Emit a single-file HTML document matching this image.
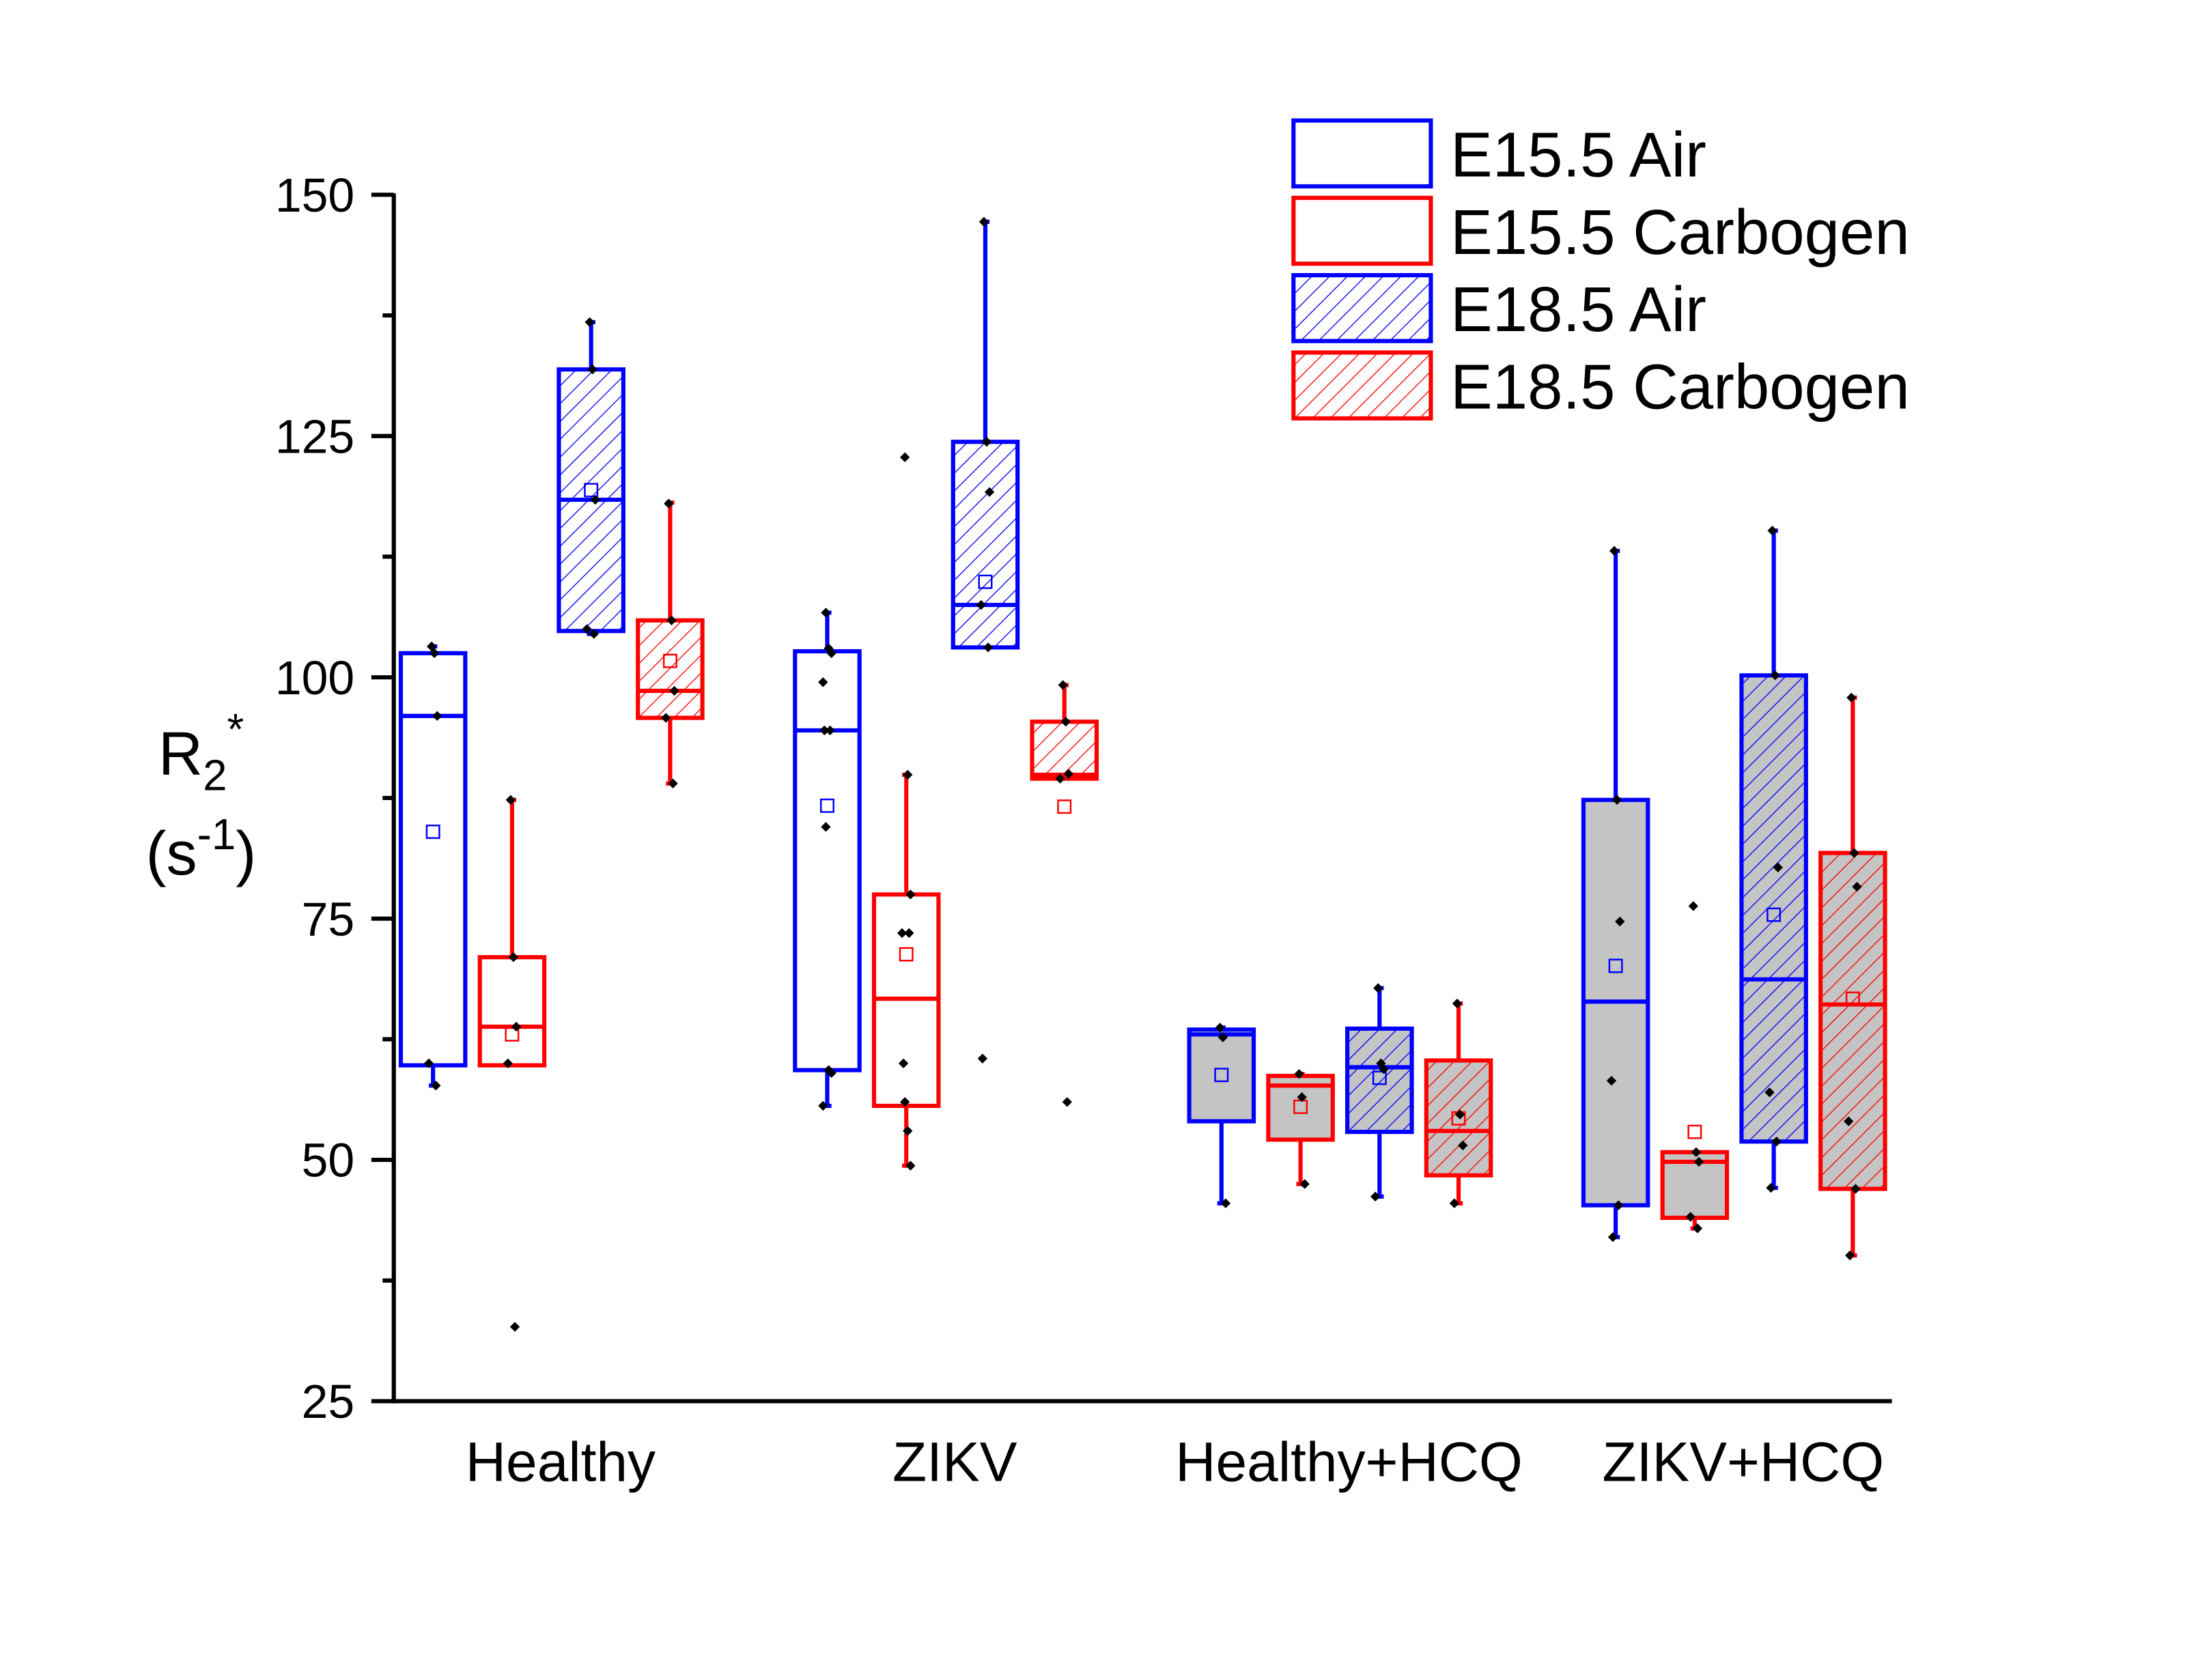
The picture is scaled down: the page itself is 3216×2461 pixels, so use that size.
<!DOCTYPE html>
<html><head><meta charset="utf-8">
<style>
html,body{margin:0;padding:0;background:#fff;}
svg{display:block;}
text{font-family:"Liberation Sans",Arial,sans-serif;}
</style></head>
<body>
<svg id="chart" width="3216" height="2461" viewBox="0 0 1567 1199" preserveAspectRatio="none" xmlns="http://www.w3.org/2000/svg">
<defs>
<pattern id="hb" patternUnits="userSpaceOnUse" width="9" height="9" patternTransform="rotate(45)"><line x1="0" y1="0" x2="0" y2="9" stroke="#0000ff" stroke-width="1.3"/></pattern>
<pattern id="hr" patternUnits="userSpaceOnUse" width="9" height="9" patternTransform="rotate(45)"><line x1="0" y1="0" x2="0" y2="9" stroke="#ff0000" stroke-width="1.3"/></pattern>
</defs>
<g id="plot"></g>
</svg>
<script>
const categories = ["Healthy","ZIKV","Healthy+HCQ","ZIKV+HCQ"];
const seriesNames = ["E15.5 Air","E15.5 Carbogen","E18.5 Air","E18.5 Carbogen"];
const yTicks = [25,50,75,100,125,150];
// [q1, median, q3, whiskerLow, whiskerHigh, mean] per category per series
const boxAir15 = [[59.8,96,102.5,57.7,103.2,84],[59.3,94.5,102.7,55.6,106.7,86.7],[54,63,63.5,45.5,63.7,58.8],[45.3,66.4,87.3,42,113.1,70.1]];
const boxCarb15 = [[59.8,63.8,71,59.8,87.3,63],[55.6,66.7,77.5,49.4,89.9,71.3],[52.1,57.7,58.7,47.5,58.9,55.5],[44,49.8,50.8,42.9,50.8,52.9]];
const boxAir18 = [[104.8,118.4,131.9,104.5,136.8,119.4],[103.1,107.5,124.4,103.1,147.2,109.9],[52.9,59.6,63.6,46.2,67.8,58.5],[51.9,68.7,100.2,47.1,115.2,75.4]];
const boxCarb18 = [[95.8,98.6,105.9,89,118.1,101.7],[89.5,89.9,95.4,89.5,99.2,86.6],[48.4,53,60.3,45.5,66.2,54.3],[47,66.1,81.8,40.1,97.9,66.7]];
const ptsAir15 = [[103.2,102.5,96,60,57.7],[106.7,103,102.5,99.5,94.5,94.5,84.5,59.3,59,55.6],[63.7,62.7,45.5],[113.1,87.3,74.7,58.2,45.3,42]];
const ptsCarb15 = [[87.3,71,63.8,60,32.7],[122.8,89.9,77.5,73.5,73.5,60,56,53,49.4],[58.9,56.5,47.5],[76.3,50.8,49.8,44.1,42.9]];
const ptsAir18 = [[136.8,131.9,118.4,105,104.5],[147.2,124.4,119.2,107.5,103.1,60.5],[67.8,60,59.4,46.2],[115.2,100.2,80.3,57,51.9,47.1]];
const ptsCarb18 = [[118,105.9,98.6,95.8,89],[99.2,95.4,90,89.5,56],[66.2,54.7,51.5,45.5],[97.9,81.8,78.3,54,47,40.1]];

const boxes=[boxAir15,boxCarb15,boxAir18,boxCarb18];
const pts=[ptsAir15,ptsCarb15,ptsAir18,ptsCarb18];
const colors=["#0000ff","#ff0000","#0000ff","#ff0000"];
const NS="http://www.w3.org/2000/svg";
const g=document.getElementById('plot');
function el(t,a,p){const e=document.createElementNS(NS,t);for(const k in a)e.setAttribute(k,a[k]);(p||g).appendChild(e);return e;}
const y=v=>1000-(v-25)*(861/125);
const catX=i=>400+i*281.3;
const boxX=(c,s)=>catX(c)-91+s*56.4;
const BW=46;

for(let c=0;c<categories.length;c++){
  const gray=c>=2;
  for(let s=0;s<4;s++){
    const b=boxes[s][c], col=colors[s], cx=boxX(c,s);
    const grp=el('g',{});
    
    
    el('line',{x1:cx,x2:cx,y1:y(b[4]),y2:y(b[2]),stroke:col,'stroke-width':3},grp);
    el('line',{x1:cx,x2:cx,y1:y(b[0]),y2:y(b[3]),stroke:col,'stroke-width':3},grp);
    el('line',{x1:cx-3,x2:cx+3,y1:y(b[4]),y2:y(b[4]),stroke:col,'stroke-width':3},grp);
    el('line',{x1:cx-3,x2:cx+3,y1:y(b[3]),y2:y(b[3]),stroke:col,'stroke-width':3},grp);
    el('rect',{x:cx-BW/2,y:y(b[2]),width:BW,height:y(b[0])-y(b[2]),fill:gray?'#c4c4c4':'#fff',stroke:'none'},grp);
    if(s>=2) el('rect',{x:cx-BW/2,y:y(b[2]),width:BW,height:y(b[0])-y(b[2]),fill:s==2?'url(#hb)':'url(#hr)',stroke:'none'},grp);
    el('rect',{x:cx-BW/2,y:y(b[2]),width:BW,height:y(b[0])-y(b[2]),fill:'none',stroke:col,'stroke-width':3},grp);
    el('line',{x1:cx-BW/2,x2:cx+BW/2,y1:y(b[1]),y2:y(b[1]),stroke:col,'stroke-width':3},grp);
    el('rect',{x:cx-4.5,y:y(b[5])-4.5,width:9,height:9,fill:'none',stroke:col,'stroke-width':1.2},grp);
    pts[s][c].forEach((v,i)=>{
      const dx=[-1,1,3,-3,2,-2][i%6];
      const d=el('path',{d:`M${cx+dx} ${y(v)-3.5} l3.5 3.5 l-3.5 3.5 l-3.5 -3.5z`,fill:'#000'},grp);
      
      
    });
  }
  const t=el('text',{x:catX(c),y:1057,'font-size':40,'text-anchor':'middle',fill:'#000'});
  t.textContent=categories[c];
  
  
}
// axes
const ax=el('line',{x1:281,x2:281,y1:138,y2:1001.5,stroke:'#000','stroke-width':3});


const bx=el('line',{x1:279.5,x2:1350,y1:1000,y2:1000,stroke:'#000','stroke-width':3});


yTicks.forEach((v,i)=>{
  el('line',{x1:265,x2:281,y1:y(v),y2:y(v),stroke:'#000','stroke-width':3});
  if(i<yTicks.length-1){const m=(v+yTicks[i+1])/2;el('line',{x1:273,x2:281,y1:y(m),y2:y(m),stroke:'#000','stroke-width':3});}
  const t=el('text',{x:253,y:y(v)+12,'font-size':34,'text-anchor':'end',fill:'#000'});
  t.textContent=v;
  
  
});
// y title
const yt=el('text',{x:113,y:553,'font-size':44,fill:'#000'});


yt.innerHTML='R<tspan font-size="31" dy="11">2</tspan><tspan font-size="31" dy="-33">*</tspan>';
const yu=el('text',{x:104,y:624,'font-size':44,fill:'#000'});


yu.innerHTML='(s<tspan font-size="31" dy="-18">-1</tspan><tspan dy="18">)</tspan>';
// legend
seriesNames.forEach((n,i)=>{
  const ly=86+i*55.2;
  const lg=el('g',{});
  
  
  if(i>=2) el('rect',{x:923,y:ly,width:98,height:47,fill:i==2?'url(#hb)':'url(#hr)'},lg);
  el('rect',{x:923,y:ly,width:98,height:47,fill:'none',stroke:colors[i],'stroke-width':3},lg);
  const t=el('text',{x:1035,y:ly+40,'font-size':45,fill:'#000'},lg);
  t.textContent=n;
});
</script>
</body></html>
